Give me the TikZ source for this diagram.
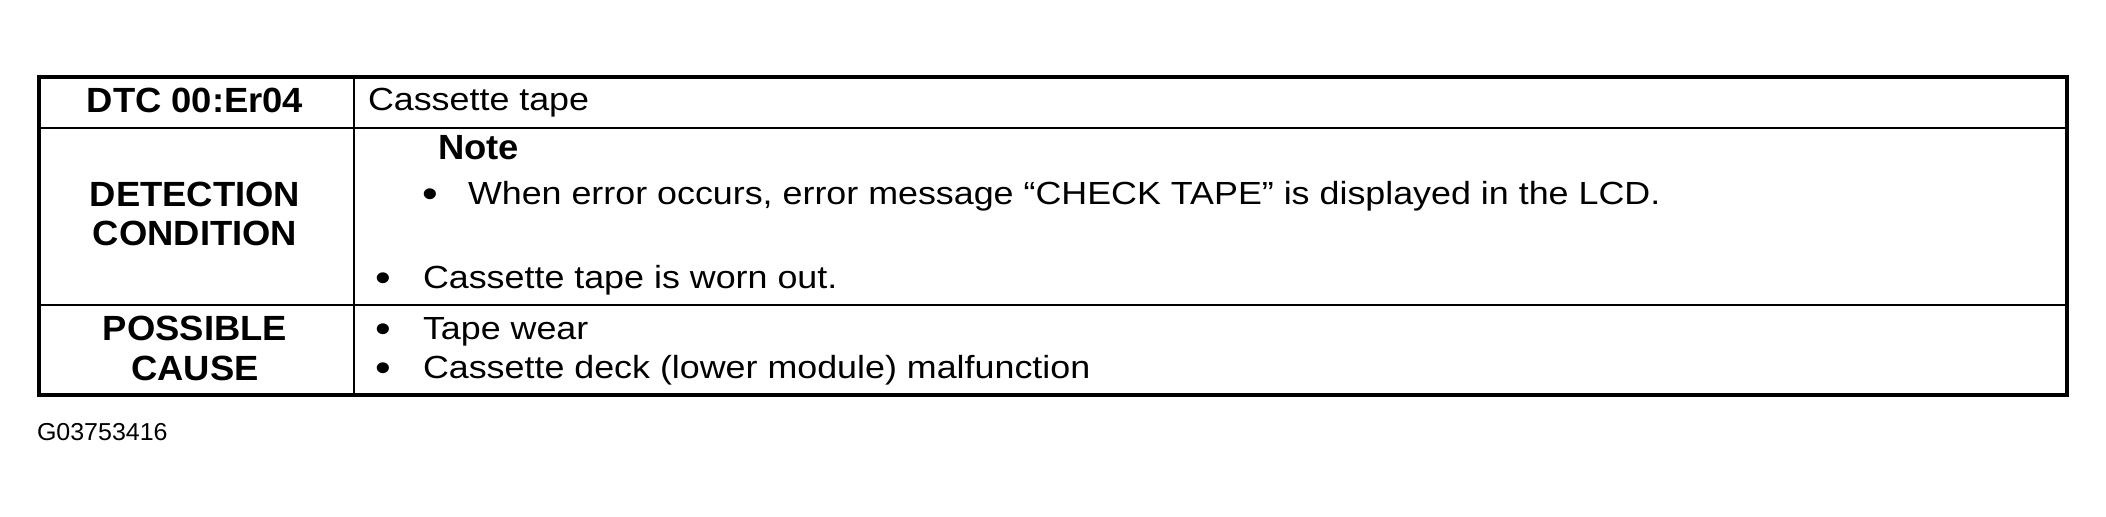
\documentclass[tikz,border=0pt]{standalone}
\usepackage{fontspec}
\setmainfont{Liberation Sans}
\newfontfamily\regf{Liberation Sans}[FakeStretch=1.12]
\newfontfamily\boldf{Liberation Sans}[FakeStretch=1.04]
\newfontfamily\labf{Liberation Sans}[FakeStretch=1.02]
\begin{document}
\begin{tikzpicture}[x=0.5pt,y=-0.5pt,
  txt/.style={inner sep=0pt,outer sep=0pt,anchor=base west,font=\regf\fontsize{16pt}{18pt}\selectfont},
  bul/.style={inner sep=0pt,outer sep=0pt,anchor=base,font=\regf\fontsize{20pt}{22pt}\selectfont},
  hdr/.style={inner sep=0pt,outer sep=0pt,anchor=base,font=\boldf\bfseries\fontsize{17.5pt}{20pt}\selectfont},
  notehdr/.style={inner sep=0pt,outer sep=0pt,anchor=base west,font=\boldf\bfseries\fontsize{17.5pt}{20pt}\selectfont},
  lab/.style={inner sep=0pt,outer sep=0pt,anchor=base west,font=\labf\fontsize{12.25pt}{14pt}\selectfont},
  frame/.style={line width=2pt},
  rule/.style={line width=1pt}]
\path[use as bounding box, fill=white] (0,0) rectangle (2106,516);
\coordinate (tl) at (39,77);
\coordinate (br) at (2067,395);
\coordinate (c1t) at (354,77);
\coordinate (c1b) at (354,395);
\coordinate (r1l) at (39,128);
\coordinate (r1r) at (2067,128);
\coordinate (r2l) at (39,305);
\coordinate (r2r) at (2067,305);
\draw[rule] (c1t) -- (c1b);
\draw[rule] (r1l) -- (r1r);
\draw[rule] (r2l) -- (r2r);
\draw[frame] (tl) rectangle (br);
% left column
\node[hdr] (dtc) at (195,112) {DTC 00:Er04};
\node[hdr] (det) at (195,206) {DETECTION};
\node[hdr] (cond) at (195,245) {CONDITION};
\node[hdr] (poss) at (195,340) {POSSIBLE};
\node[hdr] (cause) at (195,380) {CAUSE};
% right column
\node[txt] (ctape) at (368,110) {Cassette tape};
\node[notehdr] (note) at (438,159) {Note};
\node[bul] (b1) at (430,207) {•};
\node[txt] (when) at (468,204) {When error occurs, error message “CHECK TAPE” is displayed in the LCD.};
\node[bul] (b2) at (383,291) {•};
\node[txt] (worn) at (423,288) {Cassette tape is worn out.};
\node[bul] (b3) at (383,342) {•};
\node[txt] (wear) at (423,339) {Tape wear};
\node[bul] (b4) at (383,381) {•};
\node[txt] (deck) at (423,378) {Cassette deck (lower module) malfunction};
% figure code
\node[lab] (code) at (37,440) {G03753416};
\end{tikzpicture}
\end{document}
